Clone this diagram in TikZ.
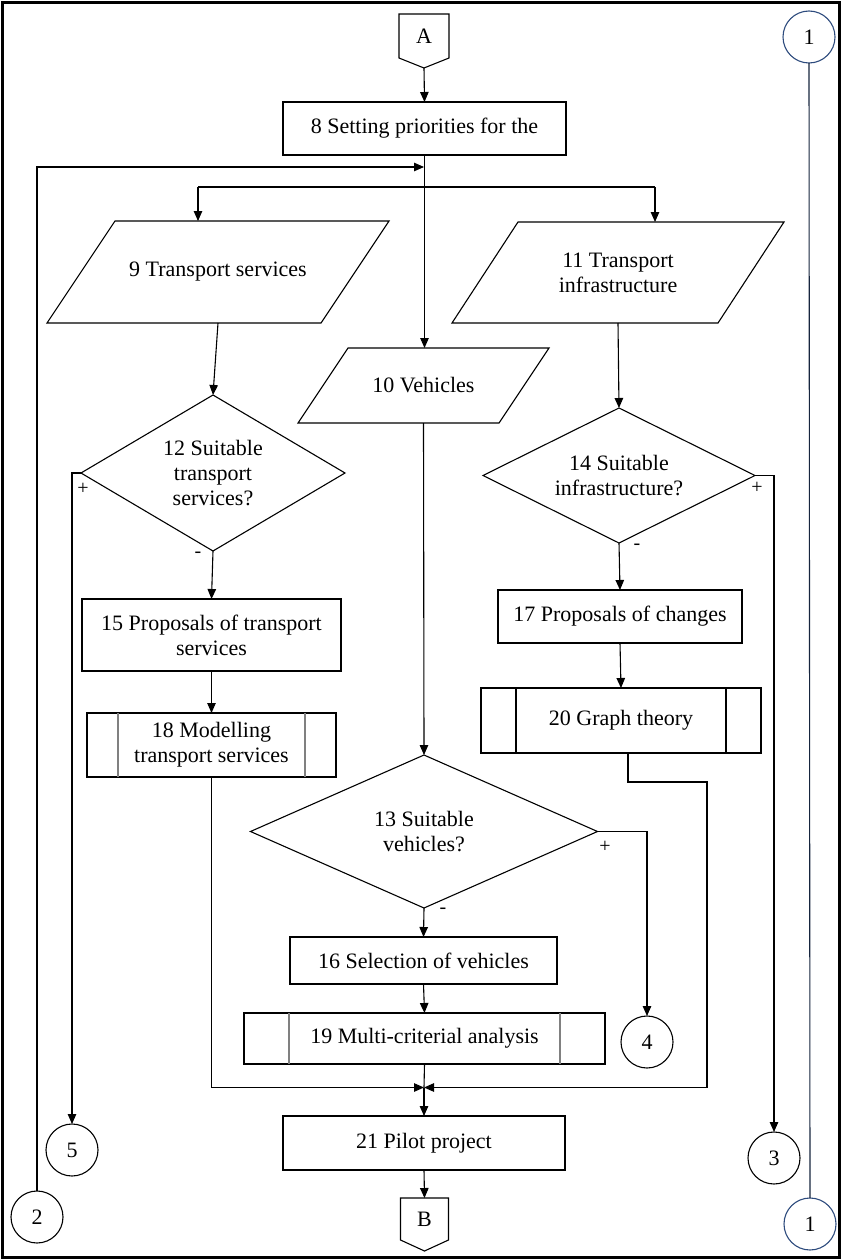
\documentclass[tikz,border=0pt]{standalone}
\usepackage{fontspec}
\setmainfont{Liberation Serif}
\newfontfamily\tnrfont{Liberation Serif}
\usetikzlibrary{arrows.meta}
\newcommand\myfs{\tnrfont\fontsize{22}{25}\selectfont}
\newcommand\mypm{\tnrfont\fontsize{20}{20}\selectfont}
\definecolor{conblue}{RGB}{45,75,125}
\begin{document}
\begin{tikzpicture}[x=1pt,y=-1pt,line width=1.1pt,
  arr/.style={-{Triangle[length=10pt,width=8.5pt]}},
  lbl/.style={font=\myfs, align=center, inner sep=0pt, outer sep=0pt},
  box/.style 2 args={lbl, draw, minimum width=#1, minimum height=#2},
  ghost/.style 2 args={lbl, minimum width=#1, minimum height=#2},
  conn/.style={draw, circle, minimum size=52pt, inner sep=0pt, outer sep=0pt, font=\myfs},
  pm/.style={font=\mypm, inner sep=0pt}]
\useasboundingbox (0,0) rectangle (843,1260);
\draw[line width=3pt] (2.5,2.5) rectangle (839.5,1257);

% off-page connectors
\node[ghost={50pt}{44pt}] (A) at (424,36) {A};
\draw (A.north west) -- (A.north east) -- (A.south east) -- ([yshift=-10pt]A.south) -- (A.south west) -- cycle;
\coordinate (Ap) at ([yshift=-10pt]A.south);
\node[ghost={48pt}{42pt}] (B) at (424.5,1219) {B};
\draw (B.north west) -- (B.north east) -- (B.south east) -- ([yshift=-11pt]B.south) -- (B.south west) -- cycle;

% process boxes
\node[box={283pt}{53pt}] (n8) at (424.5,128.5) {8 Setting priorities for the};
\node[box={259pt}{72pt}] (n15) at (211.5,635) {15 Proposals of transport\\services};
\node[box={249pt}{64pt}] (n18) at (211.5,745) {18 Modelling\\transport services};
\draw[gray] ([xshift=31pt]n18.north west) -- ([xshift=31pt]n18.south west);
\draw[gray] ([xshift=-31pt]n18.north east) -- ([xshift=-31pt]n18.south east);
\node[box={267pt}{47pt}] (n16) at (423.5,960.5) {16 Selection of vehicles};
\node[box={361pt}{51pt}] (n19) at (424.5,1038.5) {19 Multi-criterial analysis};
\draw[gray] ([xshift=45pt]n19.north west) -- ([xshift=45pt]n19.south west);
\draw[gray] ([xshift=-45pt]n19.north east) -- ([xshift=-45pt]n19.south east);
\node[box={244pt}{53pt}] (n17) at (620,616.5) {17 Proposals of changes};
\node[box={280pt}{65pt}] (n20) at (621,720.5) {20 Graph theory};
\draw ([xshift=35pt]n20.north west) -- ([xshift=35pt]n20.south west);
\draw ([xshift=-35pt]n20.north east) -- ([xshift=-35pt]n20.south east);
\node[box={282pt}{54pt}] (n21) at (424,1143) {21 Pilot project};

% data (parallelograms)
\node[ghost={274pt}{102pt}] (n9) at (218,272) {9 Transport services};
\draw ([xshift=34pt]n9.north west) -- ([xshift=34pt]n9.north east) -- ([xshift=-34pt]n9.south east) -- ([xshift=-34pt]n9.south west) -- cycle;
\node[ghost={201pt}{75pt}] (n10) at (423.5,385.5) {10 Vehicles};
\draw ([xshift=25pt]n10.north west) -- ([xshift=25pt]n10.north east) -- ([xshift=-25pt]n10.south east) -- ([xshift=-25pt]n10.south west) -- cycle;
\node[ghost={266pt}{101pt}] (n11) at (618,272.5) {11 Transport\\infrastructure};
\draw ([xshift=33pt]n11.north west) -- ([xshift=33pt]n11.north east) -- ([xshift=-33pt]n11.south east) -- ([xshift=-33pt]n11.south west) -- cycle;

% decisions
\node[ghost={264pt}{156pt}] (n12) at (213,473) {12 Suitable\\transport\\services?};
\draw (n12.north) -- (n12.east) -- (n12.south) -- (n12.west) -- cycle;
\node[ghost={347pt}{153pt}] (n13) at (424,831.5) {13 Suitable\\vehicles?};
\draw (n13.north) -- (n13.east) -- (n13.south) -- (n13.west) -- cycle;
\node[ghost={272pt}{135pt}] (n14) at (619,475.5) {14 Suitable\\infrastructure?};
\draw (n14.north) -- (n14.east) -- (n14.south) -- (n14.west) -- cycle;

% connectors (circles)
\node[conn, draw=conblue] (c1a) at (809,37) {1};
\node[conn, draw=conblue] (c1b) at (810,1224) {1};
\node[conn] (c2) at (37,1217) {2};
\node[conn] (c3) at (774,1158) {3};
\node[conn] (c4) at (647,1042) {4};
\node[conn] (c5) at (72,1150) {5};

% helper coordinates
\coordinate (fb) at (424,167);
\coordinate (jL) at (198,187);
\coordinate (jR) at (655,187);
\coordinate (m) at (424,1087.5);
\coordinate (r1) at (707,782);

% edges
\draw[arr] (Ap) -- (n8.north);
\draw[arr] (n8.south) -- (n8.south |- n10.north);
\draw[arr] (c2.north) |- (fb);
\draw (jL) -- (jR);
\draw[arr] (jL) -- (jL |- n9.north);
\draw[arr] (jR) -- (jR |- n11.north);
\draw[arr] (n9.south) -- (n12.north);
\draw[arr] (n12.west) -| (c5.north);
\draw[arr] (n12.south) -- (n15.north);
\draw[arr] (n15.south) -- (n18.north);
\draw[arr] (n18.south) |- (m);
\draw[arr] (n10.south) -- (n13.north);
\draw[arr] (n13.east) -| (c4.north);
\draw[arr] (n13.south) -- (n16.north);
\draw[arr] (n16.south) -- (n19.north);
\draw (n19.south) -- (m);
\draw[arr] (m) -- (n21.north);
\draw[arr] (n21.south) -- (B.north);
\draw[arr] (n11.south) -- (n14.north);
\draw[arr] (n14.east) -| (c3.north);
\draw[arr] (n14.south) -- (n17.north);
\draw[arr] (n17.south) -- (n20.north);
\draw[arr] ([xshift=7pt]n20.south) |- (r1) |- (m);
\draw[conblue!50!black] (c1a.south) -- (c1b.north);

% branch labels
\node[pm] (p12) at (83,489) {+};
\node[pm] (q12) at (198,555) {-};
\node[pm] (p13) at (605,847) {+};
\node[pm] (q13) at (443,911) {-};
\node[pm] (p14) at (757,488) {+};
\node[pm] (q14) at (637,547) {-};
\end{tikzpicture}
\end{document}
